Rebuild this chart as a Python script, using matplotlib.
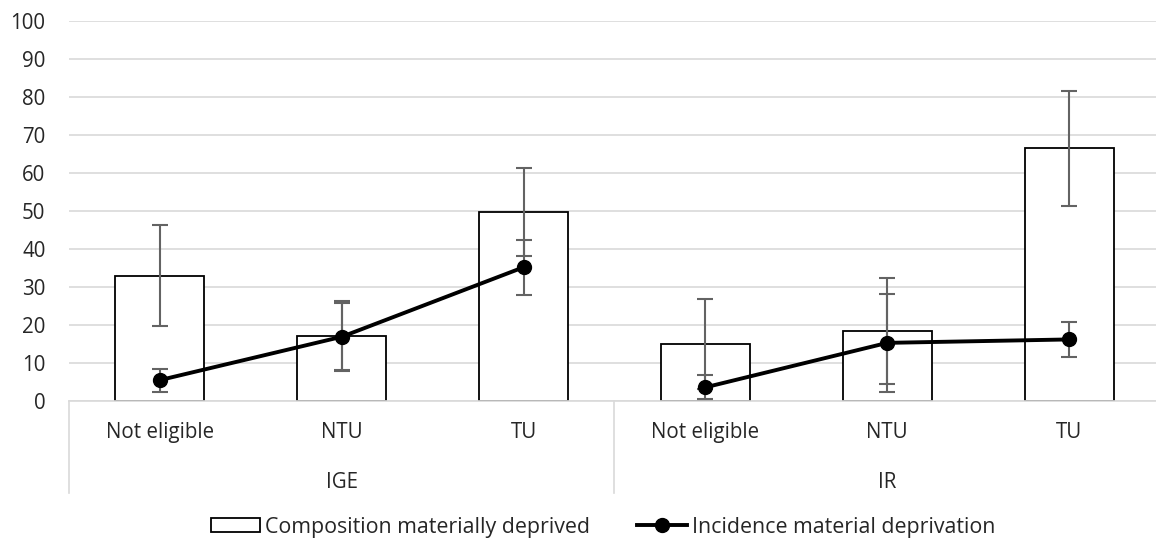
import numpy as np
import matplotlib
matplotlib.use('Agg')
import matplotlib.pyplot as plt
from matplotlib.transforms import blended_transform_factory
from matplotlib.patches import Patch
from matplotlib.lines import Line2D

plt.rcParams['font.family'] = ['Open Sans', 'DejaVu Sans']

groups = ['IGE', 'IR']
cats = ['Not eligible', 'NTU', 'TU', 'Not eligible', 'NTU', 'TU']

# composition materially deprived (bars) and its error
comp = [33.0, 17.2, 49.8, 15.0, 18.4, 66.5]
comp_err = [13.2, 9.1, 11.6, 11.9, 13.9, 15.2]

# incidence of material deprivation (line) and its error
inc = [5.5, 16.9, 35.2, 3.6, 15.3, 16.2]
inc_err = [3.0, 9.0, 7.2, 3.2, 12.9, 4.6]

W, H = 1156, 539
fig = plt.figure(figsize=(W / 100, H / 100), dpi=100)
ax = fig.add_axes([69 / W, (H - 401) / H, 1091 / W, 380 / H])

x = np.arange(len(cats))
grid_c = '#d9d9d9'
err_c = '#636363'
txt_c = '#262626'
fs = 14.8

ax.bar(x, comp, width=0.49, color='white', edgecolor='black', linewidth=1.3, zorder=2)
ax.errorbar(x, comp, yerr=comp_err, fmt='none', ecolor=err_c, elinewidth=1.5,
            capsize=5.5, capthick=1.5, zorder=3)
# line is broken between the two groups
for i in range(len(groups)):
    sl = slice(3 * i, 3 * i + 3)
    ax.plot(x[sl], inc[sl], color='black', linewidth=2.8, marker='o', markersize=10, zorder=4)
ax.errorbar(x, inc, yerr=inc_err, fmt='none', ecolor=err_c, elinewidth=1.5,
            capsize=5.5, capthick=1.5, zorder=3)

ax.set_xlim(-0.5, 5.5)
ax.set_ylim(0, 100)
ax.set_yticks(np.arange(0, 101, 10))
ax.yaxis.grid(True, color=grid_c, linewidth=1.2)
ax.set_axisbelow(True)
for s in ['top', 'right', 'left']:
    ax.spines[s].set_visible(False)
ax.spines['bottom'].set_color(grid_c)
ax.spines['bottom'].set_linewidth(1.2)
ax.tick_params(axis='y', length=0, pad=17, labelsize=fs, labelcolor=txt_c)
ax.tick_params(axis='x', length=0, pad=15, labelsize=fs, labelcolor=txt_c)
ax.set_xticks(x)
ax.set_xticklabels(cats)

# second level of the category axis
tr = blended_transform_factory(ax.transData, fig.transFigure)
for b in [-0.5, 2.5, 5.5]:
    ax.add_line(Line2D([b, b], [1 - 401 / H, 1 - 493 / H], transform=tr,
                       color=grid_c, linewidth=1.2, clip_on=False))
for i, g in enumerate(groups):
    ax.text(3 * i + 1, 1 - 483 / H, g, transform=tr, ha='center', va='center',
            fontsize=fs, color=txt_c)

handles = [Patch(facecolor='white', edgecolor='black', linewidth=1.3),
           Line2D([], [], color='black', linewidth=2.8, marker='o', markersize=10)]
fig.legend(handles, ['Composition materially deprived', 'Incidence material deprivation'],
           loc='center', bbox_to_anchor=(603 / W, 1 - 527 / H), ncol=2, frameon=False,
           fontsize=15.4, handlelength=2.3, handleheight=0.65, handletextpad=0.25,
           columnspacing=2.2, labelcolor=txt_c, borderpad=0)

fig.savefig('out.png', dpi=100)
